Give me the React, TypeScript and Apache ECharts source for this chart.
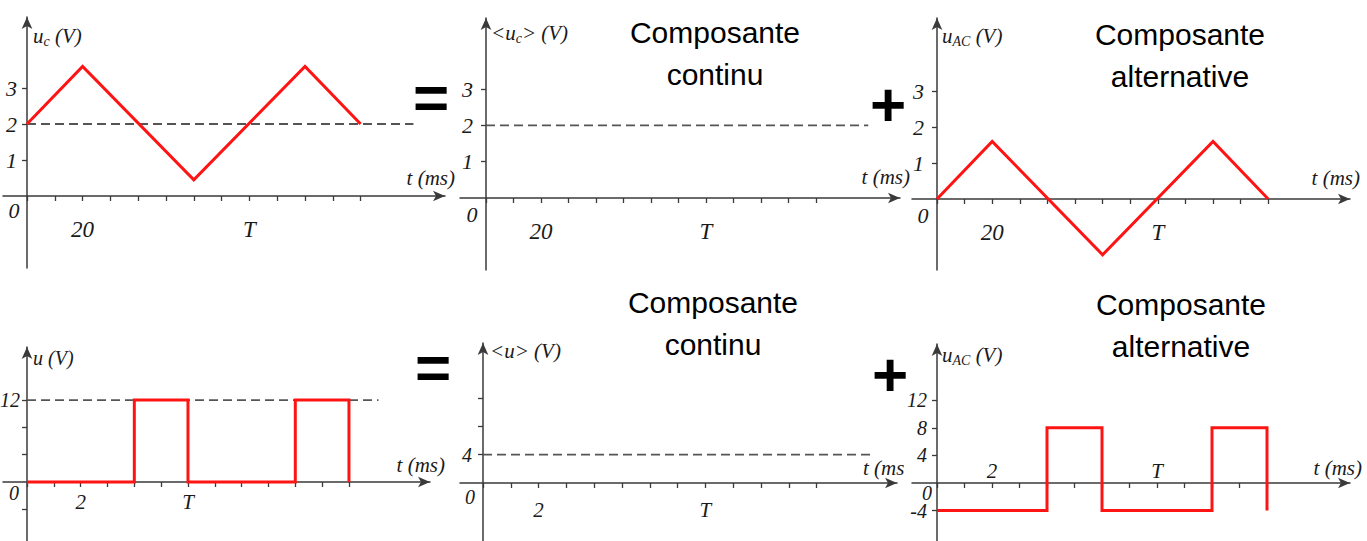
import React, { useEffect, useRef } from "react";
import * as echarts from "echarts";

// ---------- data ----------
// top row: triangle wave, t in ms, u in V
const triTimes = [0, 20, 60, 100, 120];
const ucValues = [2, 3.6, 0.45, 3.6, 2];
const ucMean = 2;
const ucAcValues = [0, 1.6, -1.55, 1.6, 0];
// bottom row: rectangular wave, t in ms, u in V
const sqTimes = [0, 4, 4, 6, 6, 10, 10, 12, 12];
const uValues = [0, 0, 12, 12, 0, 0, 12, 12, 0];
const uMean = 4;
const uAcValues = [-4, -4, 8, 8, -4, -4, 8, 8, -4];

// ticks and tick labels
const topTimeTicks = [0, 10, 20, 30, 40, 50, 60, 70, 80, 90, 100, 110, 120];
const bottomTimeTicks = [0, 1, 2, 3, 4, 5, 6, 7, 8, 9, 10, 11, 12];
const topTimeLabels: [number, string][] = [[20, "20"], [80, "T"]];
const p4TimeLabels: [number, string][] = [[2, "2"], [6, "T"]];
const p56TimeLabels: [number, string][] = [[2, "2"], [8, "T"]];
const topVoltTicks = [1, 2, 3];
const topVoltLabels: [number, string][] = [[1, "1"], [2, "2"], [3, "3"]];
const p4VoltTicks = [-4, 4, 8, 12];
const p4VoltLabels: [number, string][] = [[12, "12"]];
const p5VoltTicks = [4, 8, 12];
const p5VoltLabels: [number, string][] = [[4, "4"]];
const p6VoltTicks = [-4, 4, 8, 12];
const p6VoltLabels: [number, string][] = [[12, "12"], [8, "8"], [4, "4"], [-4, "-4"]];
const meanEndTop = 139;
const meanEndP4 = 13.1;
const meanEndP5 = 14.1;

// ---------- styles ----------
const SERIF = '"Liberation Serif", "Times New Roman", serif';
const SANS = '"Liberation Sans", Arial, sans-serif';
const INK = "#1a1a1a";
const AXIS = "#3a3a3a";
const RED = "#ff1414";
const DASH = "#555555";

const zip = (xs: number[], ys: number[]) => xs.map((x, i) => [x, ys[i]]);

type Panel = {
  ox: number; oy: number; sx: number; sy: number;
  xs: number; xe: number; yt: number; yb: number;
  xTicks: number[]; xLabels: [number, string][]; xMargin: number; xInside: boolean;
  yTicks: number[]; yLabels: [number, string][]; yMargin: number;
  fs: number;
  signal?: number[][];
  mean?: number[][];
};

const panels: Panel[] = [
  {
    ox: 27, oy: 196, sx: 2.78, sy: 36, xs: 3, xe: 445, yt: 17, yb: 268,
    xTicks: topTimeTicks, xLabels: topTimeLabels, xMargin: 22, xInside: false,
    yTicks: topVoltTicks, yLabels: topVoltLabels, yMargin: 10, fs: 22,
    signal: zip(triTimes, ucValues), mean: [[0, ucMean], [meanEndTop, ucMean]],
  },
  {
    ox: 486, oy: 198, sx: 2.75, sy: 36.3, xs: 460, xe: 900, yt: 18, yb: 270,
    xTicks: topTimeTicks, xLabels: topTimeLabels, xMargin: 22, xInside: false,
    yTicks: topVoltTicks, yLabels: topVoltLabels, yMargin: 13, fs: 22,
    mean: [[0, ucMean], [meanEndTop, ucMean]],
  },
  {
    ox: 937, oy: 199, sx: 2.76, sy: 36, xs: 912, xe: 1350, yt: 18, yb: 270,
    xTicks: topTimeTicks, xLabels: topTimeLabels, xMargin: 22, xInside: false,
    yTicks: topVoltTicks, yLabels: topVoltLabels, yMargin: 13, fs: 22,
    signal: zip(triTimes, ucAcValues),
  },
  {
    ox: 27, oy: 482, sx: 26.83, sy: 6.83, xs: 3, xe: 430, yt: 347, yb: 541,
    xTicks: bottomTimeTicks, xLabels: p4TimeLabels, xMargin: 9, xInside: false,
    yTicks: p4VoltTicks, yLabels: p4VoltLabels, yMargin: 7, fs: 20,
    signal: zip(sqTimes, uValues), mean: [[0, 12], [meanEndP4, 12]],
  },
  {
    ox: 483, oy: 483, sx: 27.8, sy: 7.1, xs: 460, xe: 897, yt: 343, yb: 541,
    xTicks: bottomTimeTicks, xLabels: p56TimeLabels, xMargin: 16, xInside: false,
    yTicks: p5VoltTicks, yLabels: p5VoltLabels, yMargin: 11, fs: 20,
    mean: [[0, uMean], [meanEndP5, uMean]],
  },
  {
    ox: 937, oy: 483, sx: 27.5, sy: 6.9, xs: 912, xe: 1350, yt: 344, yb: 541,
    xTicks: bottomTimeTicks, xLabels: p56TimeLabels, xMargin: 2, xInside: true,
    yTicks: p6VoltTicks, yLabels: p6VoltLabels, yMargin: 10, fs: 20,
    signal: zip(sqTimes, uAcValues),
  },
];

const labelFont = (fs: number) => ({
  fontFamily: SERIF, fontStyle: "italic" as const, fontSize: fs, color: INK,
});

function buildOption() {
  const grid: any[] = [];
  const xAxis: any[] = [];
  const yAxis: any[] = [];
  const series: any[] = [];
  panels.forEach((p, i) => {
    grid.push({
      left: p.xs, top: p.yt, width: p.xe - p.xs, height: p.yb - p.yt,
      containLabel: false, outerBoundsMode: "none",
    });
    const xMap = new Map(p.xLabels);
    const yMap = new Map(p.yLabels);
    xAxis.push({
      type: "value", gridIndex: i, position: "bottom",
      offset: -(p.yb - p.oy),
      min: (p.xs - p.ox) / p.sx, max: (p.xe - p.ox) / p.sx,
      axisLine: { show: true, onZero: false, symbol: ["none", "arrow"], symbolSize: [8, 12],
        lineStyle: { color: AXIS, width: 1.5 } },
      axisTick: { show: true, customValues: p.xTicks, length: 5, lineStyle: { color: AXIS, width: 1.3 } },
      axisLabel: { show: true, customValues: p.xLabels.map((l) => l[0]), inside: p.xInside,
        margin: p.xMargin, formatter: (v: number) => xMap.get(v) ?? "", ...labelFont(p.fs + 1) },
      splitLine: { show: false },
    });
    yAxis.push({
      type: "value", gridIndex: i, position: "left",
      offset: -(p.ox - p.xs),
      min: (p.oy - p.yb) / p.sy, max: (p.oy - p.yt) / p.sy,
      axisLine: { show: true, onZero: false, symbol: ["none", "arrow"], symbolSize: [8, 12],
        lineStyle: { color: AXIS, width: 1.5 } },
      axisTick: { show: true, customValues: p.yTicks, length: 5, lineStyle: { color: AXIS, width: 1.3 } },
      axisLabel: { show: true, customValues: p.yLabels.map((l) => l[0]),
        margin: p.yMargin, formatter: (v: number) => yMap.get(v) ?? "", ...labelFont(p.fs) },
      splitLine: { show: false },
    });
    if (p.mean) {
      series.push({
        type: "line", xAxisIndex: i, yAxisIndex: i, data: p.mean, symbol: "none", silent: true,
        lineStyle: { color: DASH, width: 1.8, type: [9, 5] }, z: 2,
      });
    }
    if (p.signal) {
      series.push({
        type: "line", xAxisIndex: i, yAxisIndex: i, data: p.signal, symbol: "none", silent: true,
        lineStyle: { color: RED, width: 3, join: "miter" }, z: 3,
      });
    }
  });

  const serifText = (x: number, y: number, text: string, fs: number, align = "left", rich = true) => ({
    type: "text", x, y, silent: true,
    style: {
      text, fill: INK, fontFamily: SERIF, fontStyle: "italic", fontSize: fs,
      align, verticalAlign: "middle",
      rich: rich ? {
        s: { fontFamily: SERIF, fontStyle: "italic", fontSize: Math.round(fs * 0.66), fill: INK,
          padding: [10, 0, 0, 0] },
      } : undefined,
    },
  });
  const sansText = (x: number, y: number, text: string, fs: number, bold = false) => ({
    type: "text", x, y, silent: true,
    style: { text, fill: "#000", fontFamily: SANS, fontSize: fs, fontWeight: bold ? "bold" : "normal",
      align: "center", verticalAlign: "middle" },
  });

  const graphic: any[] = [
    // axis names
    serifText(33, 36, "u{s|c} (V)", 21),
    serifText(491, 33, "<u{s|c}> (V)", 21),
    serifText(942, 36, "u{s|AC} (V)", 21),
    serifText(33, 358, "u (V)", 20),
    serifText(490, 351, "<u> (V)", 21),
    serifText(942, 355, "u{s|AC} (V)", 21),
    // time axis names
    serifText(455, 178, "t (ms)", 21, "right", false),
    serifText(910, 177, "t (ms)", 21, "right", false),
    serifText(1360, 178, "t (ms)", 21, "right", false),
    serifText(445, 465, "t (ms)", 21, "right", false),
    serifText(863, 468, "t (ms", 21, "left", false),
    serifText(1362, 468, "t (ms)", 21, "right", false),
    // origins
    serifText(14, 210, "0", 22, "center", false),
    serifText(472, 214, "0", 22, "center", false),
    serifText(923, 215, "0", 22, "center", false),
    serifText(14, 493, "0", 20, "center", false),
    serifText(470, 497, "0", 20, "center", false),
    serifText(927, 493, "0", 20, "center", false),
    // titles
    sansText(715, 32, "Composante", 30),
    sansText(715, 74, "continu", 30),
    sansText(1180, 34, "Composante", 30),
    sansText(1180, 76, "alternative", 30),
    sansText(713, 302, "Composante", 30),
    sansText(713, 344, "continu", 30),
    sansText(1181, 304, "Composante", 30),
    sansText(1181, 346, "alternative", 30),
    // operators
    sansText(431, 97, "=", 62, true),
    sansText(888, 104, "+", 62, true),
    sansText(433, 367, "=", 62, true),
    sansText(890, 374, "+", 62, true),
  ];

  return { animation: false, backgroundColor: "#ffffff", grid, xAxis, yAxis, series, graphic };
}

export default function App() {
  const ref = useRef<HTMLDivElement>(null);
  useEffect(() => {
    if (!ref.current) return;
    const chart = echarts.init(ref.current, undefined, { renderer: "svg" });
    chart.setOption(buildOption() as any);
    return () => chart.dispose();
  }, []);
  return (
    <div
      ref={ref}
      style={{ position: "fixed", left: 0, top: 0, width: 1367, height: 541, background: "#fff" }}
    />
  );
}
